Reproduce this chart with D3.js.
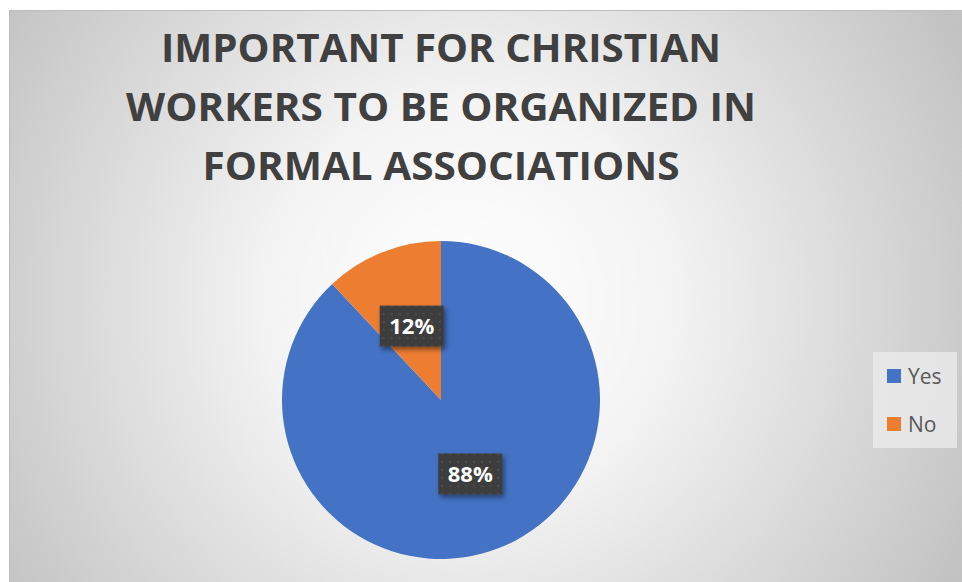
<!DOCTYPE html>
<html>
<head>
<meta charset="utf-8">
<script src="https://cdnjs.cloudflare.com/ajax/libs/d3/7.8.5/d3.min.js"></script>
<style>
  body { margin: 0; background: #fff; }
  svg { display: block; }
</style>
</head>
<body>
<svg id="chart"></svg>
<script>
const titleLines = ["IMPORTANT FOR CHRISTIAN", "WORKERS TO BE ORGANIZED IN", "FORMAL ASSOCIATIONS"];
const categories = ["Yes", "No"];
const values = [88, 12];
const colors = ["#4472C4", "#ED7D31"];

const W = 962, H = 582;
const svg = d3.select("#chart").attr("width", W).attr("height", H);

const defs = svg.append("defs");

// fondo radial
const bg = defs.append("radialGradient")
  .attr("id", "bg-grad")
  .attr("gradientUnits", "userSpaceOnUse")
  .attr("cx", 470).attr("cy", 300).attr("r", 560);
bg.append("stop").attr("offset", "0%").attr("stop-color", "#ffffff");
bg.append("stop").attr("offset", "35%").attr("stop-color", "#f4f4f4");
bg.append("stop").attr("offset", "100%").attr("stop-color", "#c2c2c2");

// textura de las etiquetas
const pat = defs.append("pattern")
  .attr("id", "dots")
  .attr("patternUnits", "userSpaceOnUse")
  .attr("width", 8).attr("height", 8);
pat.append("rect").attr("width", 8).attr("height", 8).attr("fill", "#3d3d3d");
pat.append("circle").attr("cx", 4).attr("cy", 4).attr("r", 1.3).attr("fill", "#4b4b4b");

const shadow = defs.append("filter").attr("id", "shadow")
  .attr("x", "-30%").attr("y", "-30%").attr("width", "160%").attr("height", "160%");
shadow.append("feDropShadow")
  .attr("dx", 2).attr("dy", 3).attr("stdDeviation", 2.5)
  .attr("flood-color", "#000").attr("flood-opacity", 0.45);

svg.append("rect")
  .attr("x", 9.5).attr("y", 10.5)
  .attr("width", W).attr("height", H)
  .attr("fill", "url(#bg-grad)")
  .attr("stroke", "#bdbdbd");

// Titulo
const fitWidths = [560, 630, 477];
svg.append("g")
  .selectAll("text")
  .data(titleLines)
  .join("text")
  .attr("x", 441)
  .attr("y", (d, i) => 62 + i * 59)
  .attr("text-anchor", "middle")
  .attr("font-family", "'Open Sans', sans-serif")
  .attr("font-weight", "bold")
  .attr("font-size", "40px")
  .attr("fill", "#404040")
  .attr("textLength", (d, i) => fitWidths[i])
  .attr("lengthAdjust", "spacingAndGlyphs")
  .text((d) => d);

// Pie
const data = categories.map((c, i) => ({ name: c, value: values[i], color: colors[i] }));
const r = 159;
const cx = 441, cy = 400;
const pie = d3.pie().sort(null).value((d) => d.value);
const arc = d3.arc().innerRadius(0).outerRadius(r);
const total = d3.sum(values);

const g = svg.append("g").attr("transform", `translate(${cx},${cy})`);
const arcs = pie(data);

g.selectAll("path")
  .data(arcs)
  .join("path")
  .attr("d", arc)
  .attr("fill", (d) => d.data.color);

const labels = g.selectAll("g.label")
  .data(arcs)
  .join("g")
  .attr("class", "label")
  .attr("transform", (d) => `translate(${arc.centroid(d)})`);

labels.append("rect")
  .attr("x", -32).attr("y", -20.5)
  .attr("width", 64).attr("height", 41)
  .attr("fill", "url(#dots)")
  .attr("filter", "url(#shadow)");

labels.append("text")
  .attr("text-anchor", "middle")
  .attr("dy", "0.36em")
  .attr("font-family", "'Open Sans', sans-serif")
  .attr("font-weight", "bold")
  .attr("font-size", "22px")
  .attr("fill", "#ffffff")
  .text((d) => `${Math.round((d.data.value / total) * 100)}%`);

// Leyenda
const legend = svg.append("g");
legend.append("rect")
  .attr("x", 873).attr("y", 352)
  .attr("width", 84).attr("height", 96)
  .attr("fill", "#ebebeb")
  .attr("opacity", 0.8);

const items = legend.selectAll("g.item")
  .data(data)
  .join("g")
  .attr("class", "item")
  .attr("transform", (d, i) => `translate(887,${369 + i * 48})`);

items.append("rect")
  .attr("width", 14).attr("height", 14)
  .attr("fill", (d) => d.color);

items.append("text")
  .attr("x", 21).attr("y", 15)
  .attr("font-family", "'Open Sans', sans-serif")
  .attr("font-size", "21px")
  .attr("fill", "#595959")
  .text((d) => d.name);
</script>
</body>
</html>
